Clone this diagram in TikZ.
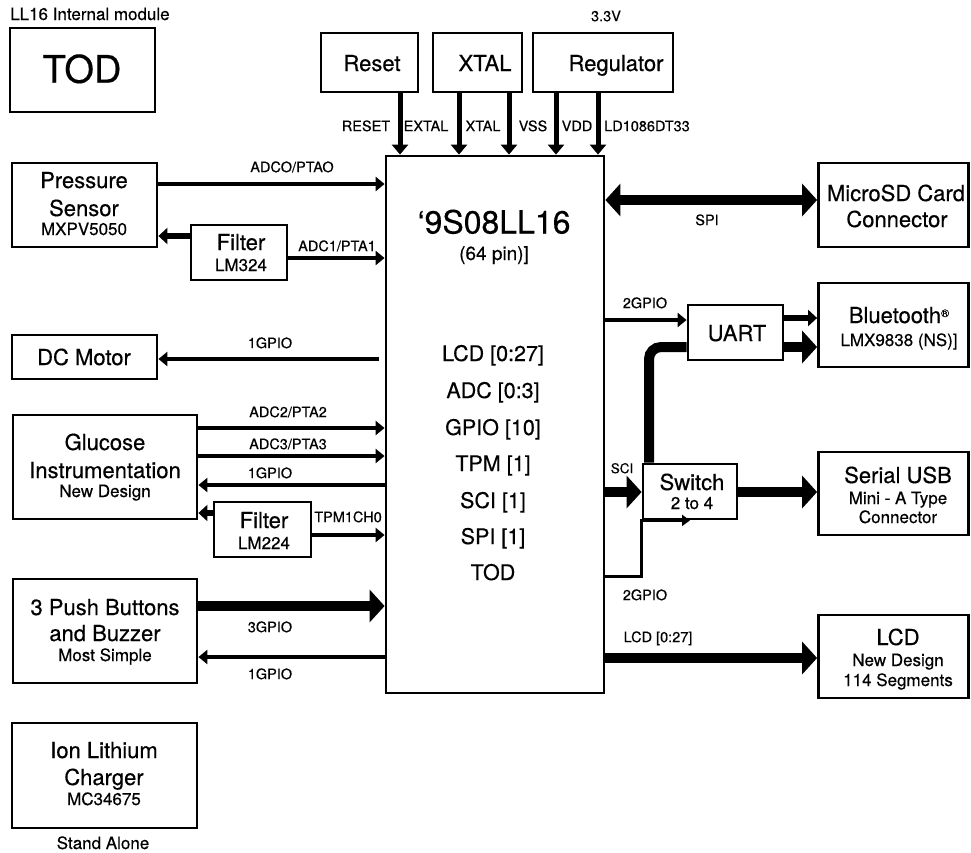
\documentclass[tikz,border=0pt]{standalone}
\usepackage{fontspec}
\setmainfont{TeX Gyre Heros}[FakeBold=0.4]
\usetikzlibrary{arrows.meta,calc}
\tikzset{
  box/.style={draw, line width=2.8pt, inner sep=0pt, fill=white},
  lab/.style={inner sep=0pt, anchor=base, yshift=-8pt, font=\fontsize{22}{26}\selectfont},
  sub/.style={inner sep=0pt, anchor=base, yshift=-6pt, font=\fontsize{17}{20}\selectfont},
  sig/.style={inner sep=0pt, anchor=base, yshift=-5.2pt, font=\fontsize{14.5}{17}\selectfont},
  lst/.style={inner sep=0pt, anchor=base, yshift=-8pt, font=\fontsize{21.5}{25}\selectfont},
  tarr/.style={line width=4.5pt, -{Triangle[length=9pt,width=14pt]}},
  darr/.style={line width=5pt, -{Triangle[length=10pt,width=16pt]}},
  farr/.style={line width=5.5pt, -{Triangle[length=9pt,width=16pt]}},
  sarr/.style={line width=3pt, -{Triangle[length=8pt,width=11pt]}},
  barr/.style={line width=10pt, -{Triangle[length=15pt,width=32pt]}},
  bus/.style={line width=10pt, rounded corners=12pt},
}
\begin{document}
\begin{tikzpicture}[x=1pt,y=-1pt]
\useasboundingbox (0,0) rectangle (971,852);

% ---------- top-left ----------
\node[sub, anchor=base west] (ll16) at (10,14) {LL16 Internal module};
\node[box, minimum width=145pt, minimum height=84pt] (tod) at (82.5,70) {};
\node[inner sep=0pt, anchor=base, yshift=-13.7pt, font=\fontsize{38}{42}\selectfont] (todt) at (82,69) {TOD};

% ---------- top boxes ----------
\node[sig] (v33) at (606,16) {3.3V};
\node[box, minimum width=97pt, minimum height=59pt] (reset) at (369.5,62.5) {};
\node[lab] (resett) at (372,63) {Reset};
\node[box, minimum width=89pt, minimum height=59pt] (xtal) at (477.5,62.5) {};
\node[lab] (xtalt) at (485,63) {XTAL};
\node[box, minimum width=140pt, minimum height=59pt] (reg) at (603,62.5) {};
\node[lab] (regt) at (616,63) {Regulator};

% ---------- main chip ----------
\node[box, fill=none, minimum width=218pt, minimum height=537pt] (main) at (495,424.5) {};
\node[inner sep=0pt, anchor=base, yshift=-11.5pt, font=\fontsize{32}{36}\selectfont] (mt) at (494,222) {‘9S08LL16};
\node[inner sep=0pt, anchor=base, yshift=-7pt, font=\fontsize{19}{22}\selectfont] (mp) at (494,253) {(64 pin)]};
\node[lst] (l1) at (493,353) {LCD [0:27]};
\node[lst] (l2) at (493,390) {ADC [0:3]};
\node[lst] (l3) at (493,427) {GPIO [10]};
\node[lst] (l4) at (493,463) {TPM [1]};
\node[lst] (l5) at (493,500) {SCI [1]};
\node[lst] (l6) at (493,536) {SPI [1]};
\node[lst] (l7) at (493,572) {TOD};

% top arrows
\draw[darr] (reset.south -| 400,0) -- (main.north -| 400,0);
\draw[darr] (xtal.south -| 459,0) -- (main.north -| 459,0);
\draw[darr] (xtal.south -| 509,0) -- (main.north -| 509,0);
\draw[darr] (reg.south -| 556,0) -- (main.north -| 556,0);
\draw[darr] (reg.south -| 598,0) -- (main.north -| 598,0);
\node[sig] (s1) at (366,126) {RESET};
\node[sig] (s2) at (426,126) {EXTAL};
\node[sig] (s3) at (483,126) {XTAL};
\node[sig] (s4) at (533,126) {VSS};
\node[sig] (s5) at (577,126) {VDD};
\node[sig] (s6) at (647,126) {LD1086DT33};

% ---------- left side ----------
\node[box, minimum width=145pt, minimum height=84pt] (press) at (84.5,205) {};
\node[lab] (pt1) at (84,180) {Pressure};
\node[lab] (pt2) at (84,208) {Sensor};
\node[sub] (pt3) at (84,229) {MXPV5050};
\draw[tarr] (press.east |- 0,184) -- (main.west |- 0,184);
\node[sig] (adc0) at (292,167) {ADCO/PTAO};

\node[box, minimum width=96pt, minimum height=55pt] (fil1) at (239,252.5) {};
\node[lab] (f1a) at (241,242) {Filter};
\node[sub] (f1b) at (241,265) {LM324};
\draw[farr] (fil1.west |- 0,236) -- (press.east |- 0,236);
\draw[tarr] (fil1.east |- 0,258) -- (main.west |- 0,258);
\node[sig] (adc1) at (337,246) {ADC1/PTA1};

\node[box, minimum width=145pt, minimum height=44pt] (dcm) at (84.5,357) {};
\node[lab] (dct) at (84,357) {DC Motor};
\draw[tarr] ($(main.west |- 0,359)+(-6,0)$) -- (dcm.east |- 0,359);
\node[sig] (g1) at (270,343) {1GPIO};

\node[box, minimum width=184pt, minimum height=104pt] (glu) at (105,467) {};
\node[lab] (gl1) at (105,442) {Glucose};
\node[lab] (gl2) at (105,470) {Instrumentation};
\node[sub] (gl3) at (105,491) {New Design};
\draw[tarr] (glu.east |- 0,428) -- (main.west |- 0,428);
\node[sig] (adc2) at (288,412) {ADC2/PTA2};
\draw[tarr] (glu.east |- 0,456) -- (main.west |- 0,456);
\node[sig] (adc3) at (288,444) {ADC3/PTA3};
\draw[tarr] (main.west |- 0,485) -- (glu.east |- 0,485);
\node[sig] (g2) at (270,473) {1GPIO};

\node[box, minimum width=97pt, minimum height=55pt] (fil2) at (262.5,529.5) {};
\node[lab] (f2a) at (264,520) {Filter};
\node[sub] (f2b) at (264,543) {LM224};
\draw[farr] (fil2.west |- 0,513) -- (glu.east |- 0,513);
\draw[tarr] (fil2.east |- 0,535) -- (main.west |- 0,535);
\node[sig] (tpm) at (348,517) {TPM1CH0};

\node[box, minimum width=184pt, minimum height=104pt] (push) at (105,631) {};
\node[lab] (pb1) at (105,607) {3 Push Buttons};
\node[lab] (pb2) at (105,633) {and Buzzer};
\node[sub] (pb3) at (105,655) {Most Simple};
\draw[barr] (push.east |- 0,606) -- (main.west |- 0,606);
\node[sig] (g3) at (270,627) {3GPIO};
\draw[tarr] (main.west |- 0,657) -- (push.east |- 0,657);
\node[sig] (g4) at (270,674) {1GPIO};

\node[box, minimum width=185pt, minimum height=105pt] (ion) at (104.5,775.5) {};
\node[lab] (io1) at (104,750) {Ion Lithium};
\node[lab] (io2) at (104,777) {Charger};
\node[sub] (io3) at (104,799) {MC34675};
\node[sub] (stand) at (103,843) {Stand Alone};

% ---------- right side ----------
\node[box, minimum width=150pt, minimum height=84pt] (sd) at (893.5,205) {};
\node[lab] (sd1) at (896,193) {MicroSD Card};
\node[lab] (sd2) at (897,219) {Connector};
\draw[line width=10pt, {Triangle[length=15pt,width=32pt]}-{Triangle[length=15pt,width=32pt]}] (main.east |- 0,200) -- (sd.west |- 0,200);
\node[sig] (spi) at (707,220) {SPI};

\node[box, minimum width=150pt, minimum height=84pt] (bt) at (893.5,325) {};
\node[lab] (bt1) at (899,315) {Bluetooth\raisebox{6pt}{\fontsize{11}{11}\selectfont ®}};
\node[sub] (bt2) at (899,340) {LMX9838 (NS)]};

\node[box, minimum width=95pt, minimum height=55pt] (uart) at (735.5,332.5) {};
\node[lab] (uat) at (737,333) {UART};
\draw[tarr] (main.east |- 0,320) -- (uart.west |- 0,320);
\node[sig] (g5) at (645,303) {2GPIO};
\draw[farr] (uart.east |- 0,318) -- (bt.west |- 0,318);
\draw[barr] (uart.east |- 0,347) -- (bt.west |- 0,347);

\node[box, minimum width=94pt, minimum height=55pt] (sw) at (690,491.5) {};
\draw[bus] (649,0 |- sw.north) |- (uart.west |- 0,347);
\node[lab] (sw1) at (692,482) {Switch};
\node[sub] (sw2) at (692,503) {2 to 4};
\draw[barr] (main.east |- 0,492) -- (sw.west |- 0,492);
\node[sig, font=\fontsize{13.5}{16}\selectfont] (sci) at (622,468) {SCI};
\draw[sarr] (main.east |- 0,576) -| (sw.south west) -- (690,0 |- sw.south);
\node[sig] (g6) at (645,595) {2GPIO};

\node[box, minimum width=150pt, minimum height=83pt] (usb) at (893.5,493.5) {};
\node[lab] (us1) at (898,475) {Serial USB};
\node[sub] (us2) at (898,498) {Mini - A Type};
\node[sub] (us3) at (898,517) {Connector};
\draw[barr] (sw.east |- 0,492) -- (usb.west |- 0,492);

\node[box, minimum width=150pt, minimum height=83pt] (lcd) at (893.5,656.5) {};
\node[lab] (lc1) at (898,637) {LCD};
\node[sub] (lc2) at (898,660) {New Design};
\node[sub] (lc3) at (898,680) {114 Segments};
\draw[barr] (main.east |- 0,658) -- (lcd.west |- 0,658);
\node[sig] (lcdl) at (658,637) {LCD [0:27]};
\end{tikzpicture}
\end{document}
